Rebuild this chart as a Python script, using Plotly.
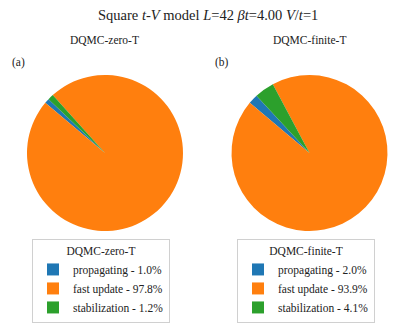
import plotly.graph_objects as go

# timing fractions (%)
parts = ["propagating", "fast update", "stabilization"]
zero_t = [1.0, 97.8, 1.2]
finite_t = [2.0, 93.9, 4.1]
colors = ["#1f77b4", "#ff7f0e", "#2ca02c"]

W, H = 415, 323
SERIF = "Liberation Serif"


def px(x):
    return x / W


def py(y):
    return 1 - y / H


def labels_for(values):
    return [f"{p} - {v:.1f}%" for p, v in zip(parts, values)]


fig = go.Figure()
fig.add_trace(
    go.Pie(
        labels=labels_for(zero_t),
        values=zero_t,
        sort=False,
        direction="counterclockwise",
        rotation=-50,
        marker=dict(colors=colors, line=dict(width=0)),
        textinfo="none",
        hoverinfo="label",
        domain=dict(x=[px(27), px(183)], y=[py(231), py(75)]),
        legend="legend",
    )
)
fig.add_trace(
    go.Pie(
        labels=labels_for(finite_t),
        values=finite_t,
        sort=False,
        direction="counterclockwise",
        rotation=-50,
        marker=dict(colors=colors, line=dict(width=0)),
        textinfo="none",
        hoverinfo="label",
        domain=dict(x=[px(231), px(388)], y=[py(231), py(75)]),
        legend="legend2",
    )
)

legend_style = dict(
    xanchor="left",
    yanchor="top",
    bgcolor="white",
    bordercolor="#d0d0d0",
    borderwidth=1,
    font=dict(family=SERIF, size=11.5, color="#222"),
    tracegroupgap=0,
    itemwidth=30,
)

fig.update_layout(
    width=W,
    height=H,
    margin=dict(l=0, r=0, t=0, b=0),
    paper_bgcolor="white",
    font=dict(family=SERIF, color="#222"),
    legend=dict(
        x=px(32), y=py(239),
        title=dict(text="DQMC-zero-T", side="top center", font=dict(size=11.5)),
        **legend_style,
    ),
    legend2=dict(
        x=px(237), y=py(239),
        title=dict(text="DQMC-finite-T", side="top center", font=dict(size=11.5)),
        **legend_style,
    ),
    annotations=[
        dict(text="Square <i>t</i>-<i>V</i> model <i>L</i>=42 <i>βt</i>=4.00 <i>V</i>/<i>t</i>=1",
             x=0.5, y=py(15), font=dict(size=14.5)),
        dict(text="DQMC-zero-T", x=px(105), y=py(40), font=dict(size=11.5)),
        dict(text="DQMC-finite-T", x=px(309), y=py(40), font=dict(size=11.5)),
        dict(text="(a)", x=px(18), y=py(62), font=dict(size=11.5)),
        dict(text="(b)", x=px(222), y=py(62), font=dict(size=11.5)),
    ],
)
fig.update_annotations(xref="paper", yref="paper", showarrow=False,
                       xanchor="center", yanchor="middle")

# the page's default body margin would offset the figure by 8px
fig.write_html("out.html", config={"displayModeBar": False},
               post_script="document.body.style.margin='0';")
